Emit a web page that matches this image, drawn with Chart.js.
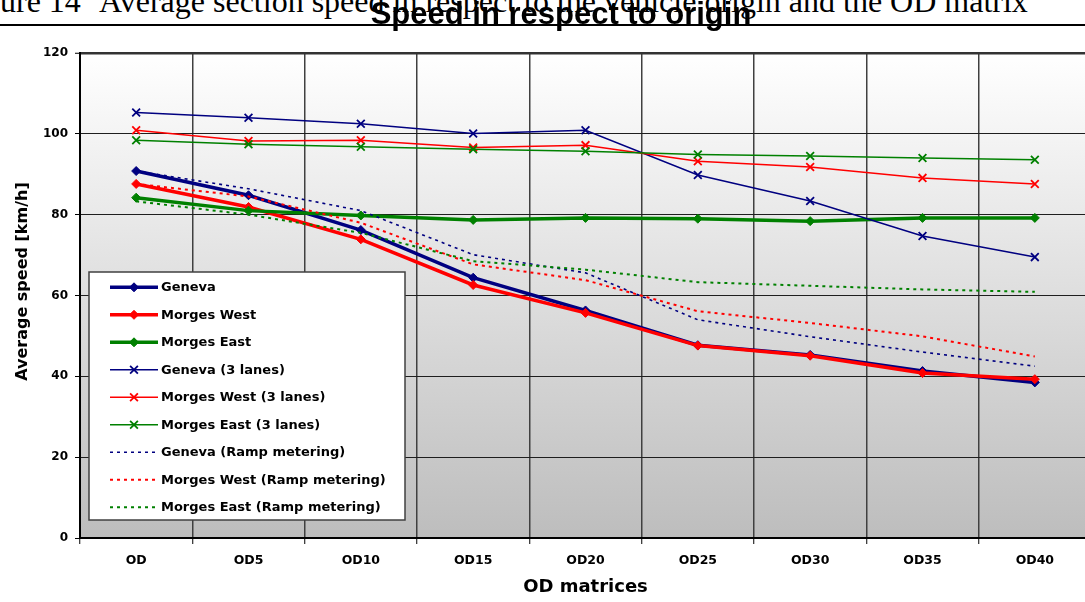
<!DOCTYPE html>
<html>
<head>
<meta charset="utf-8">
<script src="https://cdn.jsdelivr.net/npm/chart.js@4.4.1/dist/chart.umd.min.js"></script>
<style>
html,body{margin:0;padding:0;overflow:hidden;background:#fff;width:1085px;height:602px;position:relative;}
.cap{position:absolute;top:-15px;font-family:'Liberation Serif','Times New Roman',serif;font-size:32px;line-height:32px;color:#000;white-space:nowrap;}
#cap1{left:0}
#cap2{left:99px}
#rule{position:absolute;left:0;top:24px;width:1085px;height:2px;background:#000;}
#wrap{position:absolute;left:0;top:0;width:1100px;height:602px;}
canvas{display:block}
</style>
</head>
<body>
<div class="cap" id="cap1">ure 14</div>
<div class="cap" id="cap2">Average section speed in respect to the vehicle origin and the OD matrix</div>
<div id="rule"></div>
<div id="wrap"><canvas id="c" width="1100" height="602"></canvas></div>
<script>
// ---- data ----
const categories = ['OD', 'OD5', 'OD10', 'OD15', 'OD20', 'OD25', 'OD30', 'OD35', 'OD40'];
const yTicks = [0, 20, 40, 60, 80, 100, 120];
const seriesNames = ['Geneva', 'Morges West', 'Morges East',
  'Geneva (3 lanes)', 'Morges West (3 lanes)', 'Morges East (3 lanes)',
  'Geneva (Ramp metering)', 'Morges West (Ramp metering)', 'Morges East (Ramp metering)'];
const geneva        = [90.8, 84.8, 76.2, 64.4, 56.3, 47.7, 45.3, 41.3, 38.5];
const morgesWest    = [87.6, 81.9, 73.9, 62.6, 55.7, 47.6, 45.1, 40.8, 39.3];
const morgesEast    = [84.2, 81.0, 79.8, 78.7, 79.2, 79.0, 78.4, 79.2, 79.2];
const geneva3       = [105.3, 104.0, 102.5, 100.1, 100.9, 89.8, 83.4, 74.7, 69.5];
const morgesWest3   = [100.9, 98.2, 98.4, 96.6, 97.2, 93.2, 91.8, 89.1, 87.6];
const morgesEast3   = [98.4, 97.4, 96.8, 96.2, 95.7, 94.9, 94.5, 94.0, 93.6];
const genevaRM      = [90.8, 86.4, 81.0, 70.1, 65.6, 54.0, 49.8, 46.0, 42.5];
const morgesWestRM  = [87.6, 84.5, 78.0, 67.7, 63.8, 56.1, 53.2, 49.9, 44.9];
const morgesEastRM  = [83.3, 80.0, 75.5, 68.5, 66.4, 63.3, 62.4, 61.5, 60.9];
const chartTitle = 'Speed in respect to origin';
const xTitle = 'OD matrices';
const yTitle = 'Average speed [km/h]';

// ---- styles ----
const NAVY = '#000080', RED = '#ff0000', GREEN = '#008000';
function thick(label, data, color) {
  return {label, data, borderColor: color, backgroundColor: color, borderWidth: 3.5,
    pointStyle: 'rectRot', pointRadius: 4.5, pointBorderWidth: 1,
    pointBackgroundColor: color, pointBorderColor: color, tension: 0};
}
function thin(label, data, color) {
  return {label, data, borderColor: color, backgroundColor: color, borderWidth: 1.5,
    pointStyle: 'crossRot', pointRadius: 5.5, pointBorderWidth: 1.8,
    pointBackgroundColor: color, pointBorderColor: color, tension: 0};
}
function dotted(label, data, color, w) {
  return {label, data, borderColor: color, backgroundColor: color, borderWidth: w,
    borderDash: [3, 4], pointRadius: 0, tension: 0};
}
const datasets = [
  thick(seriesNames[0], geneva, NAVY),
  thick(seriesNames[1], morgesWest, RED),
  thick(seriesNames[2], morgesEast, GREEN),
  thin(seriesNames[3], geneva3, NAVY),
  thin(seriesNames[4], morgesWest3, RED),
  thin(seriesNames[5], morgesEast3, GREEN),
  dotted(seriesNames[6], genevaRM, NAVY, 1.6),
  dotted(seriesNames[7], morgesWestRM, RED, 2),
  dotted(seriesNames[8], morgesEastRM, GREEN, 2)
];
// later series drawn on top (as in the original)
datasets.forEach((d, i) => { d.order = 20 - i; });

const FONT = 'DejaVu Sans';

const plotBg = {
  id: 'plotBg',
  beforeDraw(chart) {
    const {ctx, chartArea: a} = chart;
    const g = ctx.createLinearGradient(0, a.top, 0, a.bottom);
    g.addColorStop(0, '#ffffff');
    g.addColorStop(1, '#bdbdbd');
    ctx.save();
    ctx.fillStyle = g;
    ctx.fillRect(a.left, a.top, a.right - a.left, a.bottom - a.top);
    ctx.restore();
  }
};

const titleShift = {
  id: 'titleShift',
  afterLayout(chart) {
    const t = chart.titleBlock;
    if (t) { t.left = 0; t.right = 1122; t.width = 1122; }
  }
};

function drawMarker(ctx, style, x, y, r, color, bw) {
  ctx.save();
  ctx.fillStyle = color; ctx.strokeStyle = color; ctx.lineWidth = bw; ctx.setLineDash([]);
  ctx.beginPath();
  if (style === 'rectRot') {
    ctx.moveTo(x, y - r); ctx.lineTo(x + r, y); ctx.lineTo(x, y + r); ctx.lineTo(x - r, y); ctx.closePath();
    ctx.fill(); ctx.stroke();
  } else if (style === 'crossRot') {
    const o = r * Math.SQRT1_2;
    ctx.moveTo(x - o, y - o); ctx.lineTo(x + o, y + o);
    ctx.moveTo(x + o, y - o); ctx.lineTo(x - o, y + o);
    ctx.stroke();
  }
  ctx.restore();
}

const boxLegend = {
  id: 'boxLegend',
  afterDatasetsDraw(chart) {
    const ctx = chart.ctx, a = chart.chartArea;
    const bx = a.left + 9, by = a.top + 219, bw = 316, bh = 248;
    ctx.save();
    ctx.fillStyle = '#ffffff';
    ctx.fillRect(bx, by, bw, bh);
    ctx.strokeStyle = '#404040';
    ctx.lineWidth = 1.5;
    ctx.strokeRect(bx, by, bw, bh);
    ctx.font = 'bold 13px ' + FONT;
    ctx.textBaseline = 'middle';
    ctx.textAlign = 'left';
    chart.data.datasets.forEach((d, i) => {
      const y = by + 15.3 + 27.5 * i;
      const x1 = bx + 21, x2 = bx + 69;
      ctx.save();
      ctx.strokeStyle = d.borderColor;
      ctx.lineWidth = d.borderWidth;
      ctx.setLineDash(d.borderDash || []);
      ctx.beginPath(); ctx.moveTo(x1, y); ctx.lineTo(x2, y); ctx.stroke();
      ctx.restore();
      if (d.pointRadius > 0) drawMarker(ctx, d.pointStyle, (x1 + x2) / 2, y, d.pointRadius, d.borderColor, d.pointBorderWidth);
      ctx.fillStyle = '#000';
      ctx.fillText(d.label, bx + 72, y + 0.5);
    });
    ctx.restore();
  }
};

new Chart(document.getElementById('c'), {
  type: 'line',
  data: {labels: categories, datasets},
  plugins: [plotBg, titleShift, boxLegend],
  options: {
    responsive: false,
    animation: false,
    devicePixelRatio: 1,
    layout: {padding: {left: 0, right: 9, top: 0, bottom: 0}},
    plugins: {
      legend: {display: false},
      tooltip: {enabled: false},
      title: {
        display: true, text: chartTitle, color: '#000',
        font: {family: 'Liberation Sans', weight: 'bold', size: 31, lineHeight: 1},
        padding: {top: 0, bottom: 22}
      }
    },
    scales: {
      x: {
        type: 'category',
        offset: true,
        grid: {offset: true, color: '#404040', lineWidth: 1.5, tickLength: 6, tickColor: '#000', tickWidth: 1},
        border: {color: '#000', width: 2},
        ticks: {color: '#000', font: {family: FONT, weight: 'bold', size: 12.5}, padding: 9, maxRotation: 0, autoSkip: false},
        title: {display: true, text: xTitle, color: '#000',
          font: {family: FONT, weight: 'bold', size: 18}, padding: {top: 0, bottom: 4}},
        afterFit(s) { s.height = 64; }
      },
      y: {
        min: 0, max: 120,
        afterBuildTicks(s) { s.ticks = yTicks.map(v => ({value: v})); },
        grid: {
          color: c => (c.tick && c.tick.value === 120) ? '#333' : '#1e1e1e',
          lineWidth: c => (c.tick && c.tick.value === 120) ? 2.5 : 1,
          tickLength: 5, tickColor: '#000', tickWidth: 1
        },
        border: {color: '#000', width: 2},
        ticks: {color: '#000', font: {family: FONT, weight: 'bold', size: 12}, padding: 7},
        title: {display: true, text: '     ' + yTitle, color: '#000',
          font: {family: FONT, weight: 'bold', size: 16}, padding: {top: 13, bottom: 0}},
        afterFit(s) { s.width = 80; }
      }
    }
  }
});
</script>
</body>
</html>
